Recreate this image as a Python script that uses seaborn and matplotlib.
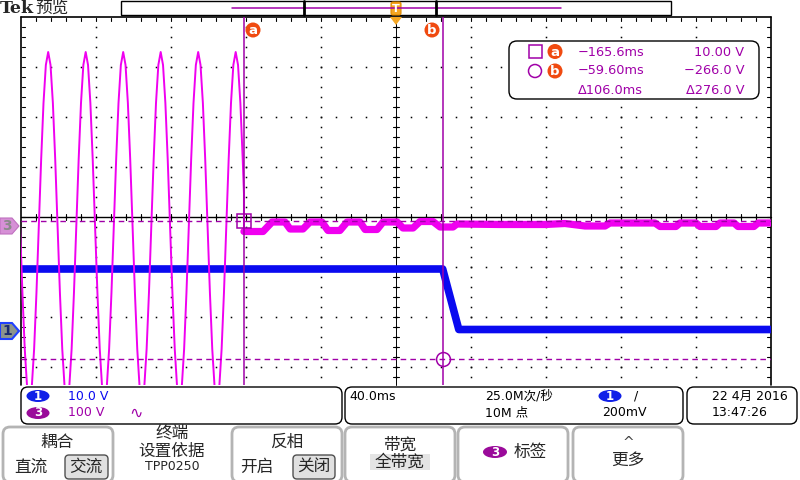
import numpy as np
import pandas as pd
import matplotlib.pyplot as plt
from matplotlib.patches import FancyBboxPatch, Rectangle, Ellipse, Polygon, Circle
import seaborn as sns

sns.set_style('white')
plt.rcParams['font.family'] = ['DejaVu Sans', 'Noto Sans CJK SC']

# ---- 示波器设置 ----
t_left = -284.5                      # 屏幕左边缘时间 (ms)
ms_per_div = 40.0                    # 40.0ms/div
ch1_scale, ch1_pos = 10.0, -2.28     # 10.0 V/div, 零点位置 (div)
ch3_scale, ch3_pos = 100.0, -0.18    # 100 V/div

# ---- 通道3: 断开前的正弦 (从 -285ms 起每 1.25ms 一个采样, V) ----
sine_t0, sine_dt = -285.0, 1.25
sine_v = [
    0, -133, -246, -322, -348, -322, -246, -133, 0, 133, 246, 322, 348, 322, 246, 133,
    0, -133, -246, -322, -348, -322, -246, -133, 0, 133, 246, 322, 348, 322, 246, 133,
    0, -133, -246, -322, -348, -322, -246, -133, 0, 133, 246, 322, 348, 322, 246, 133,
    0, -133, -246, -322, -348, -322, -246, -133, 0, 133, 246, 322, 348, 322, 246, 133,
    0, -133, -246, -322, -348, -322, -246, -133, 0, 133, 246, 322, 348, 322, 246, 133,
    0, -133, -246, -322, -348, -322, -246, -133, 0, 133, 246, 322, 348, 322, 246, 133,
]
cut_t = -165.6
cut_v = [65, -11]

# ---- 通道3: 断开后的残余波动 ----
ripple_t = [-165.6, -155.4, -150.6, -143.7, -141.0, -134.1, -130.4, -124.0, -120.8, -114.4,
            -110.6, -103.7, -101.0, -94.6, -91.4, -83.9, -80.8, -75.4, -71.7, -64.8,
            -61.0, -54.1, -52.0, -29.0, -5.0, 5.6, 16.3, 27.0, 29.6, 53.6,
            56.3, 64.8, 67.0, 75.5, 77.6, 86.2, 88.3, 95.8, 97.9, 106.4, 108.6, 115.5]
ripple_v = [-11, -11, 8, 8, -6, -6, 8, 8, -9, -9,
            8, 8, -7, -7, 8, 8, -4, -4, 9, 9,
            -2, -2, 4, 3, 3, 5, 0, 0, 6, 6,
            -1, -1, 6, 6, -1, -1, 6, 6, -1, -1, 6, 6]

# ---- 通道1 ----
ch1_t = [-284.5, -59.6, -51.0, 115.5]
ch1_v = [12.4, 12.4, 0.3, 0.3]

# ---- 光标 ----
cur_a = (-165.6, 10.0)
cur_b = (-59.6, -266.0)
cursor_rows = [('−165.6ms', '10.00 V'), ('−59.60ms', '−266.0 V'), ('Δ106.0ms', 'Δ276.0 V')]

MAG = '#f000f0'
PUR = '#a000a8'
BLUE = '#0a0af0'
ORG = '#f04a10'


def y3(v):
    return np.asarray(v, dtype=float) / ch3_scale + ch3_pos


def y1(v):
    return np.asarray(v, dtype=float) / ch1_scale + ch1_pos


fig = plt.figure(figsize=(8, 4.8), dpi=100)
fig.patch.set_facecolor('white')

# 背景: 刻度网格 (像素坐标)
bg = fig.add_axes([0, 0, 1, 1], zorder=0)
bg.set_xlim(0, 800)
bg.set_ylim(480, 0)
bg.axis('off')

L, R, T, B = 21, 771, 17, 385
xs_major = [L + 75 * i for i in range(1, 10)]
ys_major = [T + 50 * j for j in range(1, 8)]
dx, dy = [], []
for x in xs_major:
    for y in range(T + 10, B, 10):
        dx.append(x); dy.append(y)
for y in ys_major:
    for x in range(L + 15, R, 15):
        dx.append(x); dy.append(y)
bg.plot(dx, dy, ls='none', marker='s', ms=1.1, color='black', mew=0)
# 边框及中心线
bg.plot([L, R], [T, T], color='black', lw=1.2)
bg.plot([L, L], [T, B], color='black', lw=1.2)
bg.plot([R, R], [T, B], color='black', lw=1.2)
bg.plot([L, R], [217, 217], color='black', lw=1.0)
bg.plot([396, 396], [T, B], color='black', lw=0.7)
for x in range(L + 15, R, 15):
    bg.plot([x, x], [T + 1, T + 4], color='black', lw=0.8)
    bg.plot([x, x], [214, 220], color='black', lw=0.8)
for y in range(T + 10, B, 10):
    bg.plot([L + 1, L + 4], [y, y], color='black', lw=0.8)
    bg.plot([R - 4, R - 1], [y, y], color='black', lw=0.8)
    bg.plot([393, 399], [y, y], color='black', lw=0.8)

# 主波形区
ax = fig.add_axes([L / 800, (480 - B) / 480, (R - L) / 800, (B - T) / 480], zorder=1)
ax.patch.set_alpha(0)
ax.set_xlim(t_left, t_left + 10 * ms_per_div)
ax.set_ylim((217 - B) / 50, 4.0)
for s in ax.spines.values():
    s.set_visible(False)
ax.set_xticks([]); ax.set_yticks([])

sine_t = list(sine_t0 + sine_dt * np.arange(len(sine_v))) + [cut_t, cut_t]
sine_all = sine_v + cut_v

sns.lineplot(x=ch1_t, y=y1(ch1_v), ax=ax, color=BLUE, linewidth=5.5,
             sort=False, estimator=None, legend=False)
sns.lineplot(x=sine_t, y=y3(sine_all), ax=ax, color=MAG, linewidth=1.4,
             sort=False, estimator=None, legend=False)
sns.lineplot(x=ripple_t, y=y3(ripple_v), ax=ax, color=MAG, linewidth=5.2,
             sort=False, estimator=None, legend=False)

# 光标
for (ct, cv) in (cur_a, cur_b):
    ax.axvline(ct, color=PUR, lw=1.1)
    ax.axhline(y3(cv), color=PUR, lw=1.0, ls=(0, (4, 3)))
ax.plot([cur_a[0]], [y3(cur_a[1])], marker='s', ms=10, mfc='none', mec=PUR, mew=1.1)
ax.plot([cur_b[0]], [y3(cur_b[1])], marker='o', ms=10, mfc='none', mec=PUR, mew=1.1)

# 前景: 读数和菜单 (像素坐标)
ov = fig.add_axes([0, 0, 1, 1], zorder=2)
ov.set_xlim(0, 800)
ov.set_ylim(480, 0)
ov.axis('off')


def rbox(x0, y0, x1, y1_, ec='black', lw=1.0, fc='white', r=7):
    ov.add_patch(FancyBboxPatch((x0, y0), x1 - x0, y1_ - y0,
                                boxstyle=f'round,pad=0,rounding_size={r}',
                                ec=ec, fc=fc, lw=lw))


def badge(x, y, txt, fc, w=23, h=12):
    ov.add_patch(Ellipse((x, y), w, h, fc=fc, ec='none'))
    ov.text(x, y, txt, color='white', fontsize=8.5, fontweight='bold', ha='center', va='center')


def orange(x, y, txt, r=7.5):
    ov.add_patch(Circle((x, y), r, fc=ORG, ec='none'))
    ov.text(x, y + 0.5, txt, color='white', fontsize=9.5, fontweight='bold', ha='center', va='center')


# 顶部
ov.text(0, 8.5, 'Tek', fontsize=12.5, fontweight='bold', family='DejaVu Serif', va='center')
ov.text(35, 8.5, '预览', fontsize=12, family=['Noto Sans CJK SC'], va='center')
ov.add_patch(Rectangle((121, 1), 550, 14, fc='white', ec='black', lw=1.0))
ov.plot([232, 561], [8, 8], color=PUR, lw=1.1)
ov.plot([304, 304], [1, 15], color='black', lw=2)
ov.plot([436, 436], [1, 15], color='black', lw=2)
ov.add_patch(FancyBboxPatch((391, 2), 10, 13, boxstyle='round,pad=0,rounding_size=2',
                            fc='#f5a623', ec='#e08a00', lw=0.8))
ov.text(396, 9, 'T', color='white', fontsize=8, fontweight='bold', ha='center', va='center')
ov.add_patch(Polygon([(390, 17), (402, 17), (396, 25)], fc='#f5a623', ec='none'))
orange(253, 30, 'a')
orange(432, 30, 'b')

# 光标读数框
rbox(509, 41, 759, 99, r=8)
ov.add_patch(Rectangle((529, 45), 13, 13, fc='none', ec=PUR, lw=1.1))
ov.add_patch(Circle((535, 71), 6.5, fc='none', ec=PUR, lw=1.1))
orange(555, 51.5, 'a')
orange(555, 71, 'b')
for i, (tt, vv) in enumerate(cursor_rows):
    yy = 52 + 19 * i
    ov.text(578, yy, tt, color=PUR, fontsize=9.3, va='center')
    ov.text(744, yy, vv, color=PUR, fontsize=9.3, va='center', ha='right')

# 左侧通道标记
ov.add_patch(Polygon([(0, 218), (12, 218), (19, 226), (12, 234), (0, 234)],
                     fc='#d690d6', ec='#c070c0', lw=0.8))
ov.text(7, 226, '3', color='#8a8a8a', fontsize=10, fontweight='bold', ha='center', va='center')
ov.add_patch(Polygon([(0, 323), (12, 323), (19, 331), (12, 339), (0, 339)],
                     fc='#8c948c', ec='#2040ff', lw=1.5))
ov.text(7, 331, '1', color='#1a2a70', fontsize=10, fontweight='bold', ha='center', va='center')

# 底部读数
rbox(21, 387, 342, 424)
rbox(345, 387, 683, 424)
rbox(687, 387, 797, 424)
badge(38, 396, '1', '#1020e8')
badge(38, 413, '3', '#9a0a9a')
ov.text(68, 396, '10.0 V', color=BLUE, fontsize=9, va='center')
ov.text(68, 413, '100 V', color=PUR, fontsize=9, va='center')
ov.text(136, 413, '∿', color=PUR, fontsize=11.5, va='center', ha='center')
ov.text(349, 396, '40.0ms', color='black', fontsize=9, va='center')
ov.text(485, 396, '25.0M次/秒', color='black', fontsize=9, va='center')
ov.text(485, 413, '10M 点', color='black', fontsize=9, va='center')
badge(610, 396, '1', '#1020e8')
ov.text(636, 396, '/', color='black', fontsize=9, va='center', ha='center')
ov.text(602, 413, '200mV', color='black', fontsize=9, va='center')
ov.text(712, 396, '22 4月 2016', color='black', fontsize=9, va='center')
ov.text(712, 413, '13:47:26', color='black', fontsize=9, va='center')

# 菜单按钮
GREY = '#b4b4b4'
for x0, x1 in [(3, 113), (232, 342), (345, 455), (458, 568), (573, 683)]:
    rbox(x0, 427, x1, 482, ec=GREY, lw=2, r=7)
CJK = ['Noto Sans CJK SC']
ov.text(57, 442, '耦合', fontsize=12, family=CJK, ha='center', va='center')
ov.text(31, 467, '直流', fontsize=12, family=CJK, ha='center', va='center')
rbox(65, 455, 108, 479, ec='#505050', lw=1, fc='#e0e0e0', r=4)
ov.text(86, 467, '交流', fontsize=12, family=CJK, ha='center', va='center')
ov.text(172, 433, '终端', fontsize=12, family=CJK, ha='center', va='center')
ov.text(172, 451, '设置依据', fontsize=12, family=CJK, ha='center', va='center')
ov.text(172, 467, 'TPP0250', fontsize=9, ha='center', va='center')
ov.text(287, 442, '反相', fontsize=12, family=CJK, ha='center', va='center')
ov.text(257, 467, '开启', fontsize=12, family=CJK, ha='center', va='center')
rbox(293, 455, 335, 479, ec='#505050', lw=1, fc='#e0e0e0', r=4)
ov.text(314, 467, '关闭', fontsize=12, family=CJK, ha='center', va='center')
ov.text(400, 445, '带宽', fontsize=12, family=CJK, ha='center', va='center')
ov.add_patch(Rectangle((370, 454), 60, 16, fc='#e4e4e4', ec='none'))
ov.text(400, 462, '全带宽', fontsize=12, family=CJK, ha='center', va='center')
badge(495, 452, '3', '#9a0a9a', w=24, h=12)
ov.text(530, 452, '标签', fontsize=12, family=CJK, ha='center', va='center')
ov.text(628, 443, '^', fontsize=10, ha='center', va='center', color='#404040')
ov.text(628, 460, '更多', fontsize=12, family=CJK, ha='center', va='center')

fig.savefig('out.png', dpi=100, facecolor='white')
